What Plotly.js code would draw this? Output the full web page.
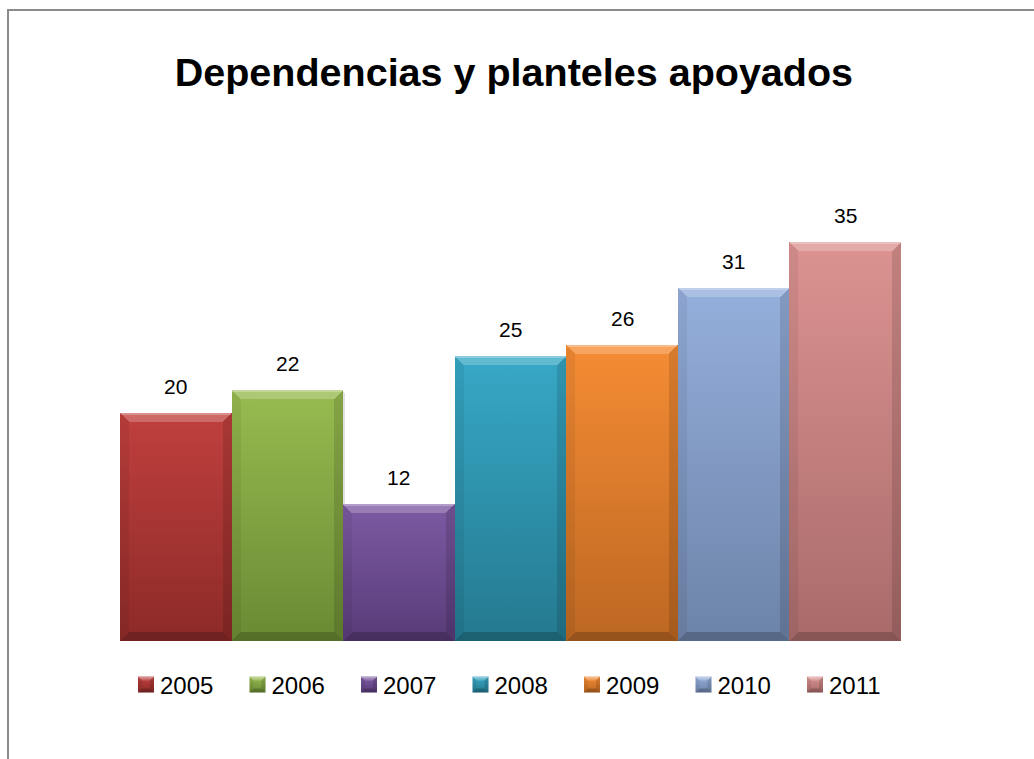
<!DOCTYPE html>
<html>
<head>
<meta charset="utf-8">
<script src="https://cdn.plot.ly/plotly-3.0.1.min.js"></script>
<style>
html,body{margin:0;padding:0;background:#fff;overflow:hidden;}
#frame{position:absolute;left:7px;top:9px;width:1100px;height:800px;border-left:2px solid #8c8c8c;border-top:2px solid #8c8c8c;}
#chart{position:absolute;left:0;top:0;width:1034px;height:759px;}
</style>
</head>
<body>
<div id="frame"></div>
<div id="chart"></div>
<script>
const years = ['2005','2006','2007','2008','2009','2010','2011'];
const values = [20, 22, 12, 25, 26, 31, 35];
const topColors = ['#c0403d','#98bb50','#7d5aa3','#37a8c6','#f58c34','#95afdc','#dc9391'];
const bottomColors = ['#8c2a28','#6a8a33','#583b78','#24798f','#bc6722','#6d83a8','#a86b6a'];
const mainColors = ['#b03b38','#86a844','#6e4e92','#2e97b3','#e67e2e','#8aa5d4','#d48a8a'];
const chartTitle = 'Dependencias y planteles apoyados';

const FONT = 'Liberation Sans, Arial, sans-serif';

const traces = years.map((y, i) => ({
  type: 'bar',
  name: y,
  x: [y],
  y: [values[i]],
  marker: {color: mainColors[i], line: {width: 0}},
  hoverinfo: 'none'
}));

const annotations = years.map((y, i) => ({
  x: i, y: values[i], xref: 'x', yref: 'y',
  text: String(values[i]), showarrow: false,
  yanchor: 'bottom', yshift: 13,
  font: {family: FONT, size: 21, color: '#000'}
}));

const layout = {
  width: 1034, height: 759,
  paper_bgcolor: 'rgba(0,0,0,0)', plot_bgcolor: 'rgba(0,0,0,0)',
  margin: {l: 120, r: 133, t: 185, b: 118},
  title: {text: '<b>' + chartTitle + '</b>', font: {family: FONT, size: 39.5, color: '#000'},
          x: 0.497, xanchor: 'center', y: 0.905, yanchor: 'middle'},
  barmode: 'overlay', bargap: 0,
  xaxis: {type: 'category', categoryorder: 'array', categoryarray: years, range: [-0.5, 6.5],
          showticklabels: false, showgrid: false, zeroline: false, showline: false, ticks: ''},
  yaxis: {range: [0, 40], showticklabels: false, showgrid: false, zeroline: false, showline: false, ticks: ''},
  showlegend: true,
  legend: {orientation: 'h', x: 0.0, xanchor: 'left', y: -0.096, yanchor: 'middle',
           entrywidth: 66.5, entrywidthmode: 'pixels', traceorder: 'normal',
           font: {family: FONT, size: 24, color: '#000'}},
  annotations: annotations
};

const ns = 'http://www.w3.org/2000/svg';
function poly(parent, tf, pts, fill, op) {
  const p = document.createElementNS(ns, 'polygon');
  p.setAttribute('points', pts.map(q => q.join(',')).join(' '));
  p.setAttribute('fill', fill);
  p.setAttribute('fill-opacity', op);
  if (tf) p.setAttribute('transform', tf);
  parent.appendChild(p);
  return p;
}
function bevel(path, bb, b, shadow) {
  const x0 = bb.x, x1 = bb.x + bb.width, y0 = bb.y, y1 = bb.y + bb.height;
  const parent = path.parentNode;
  const tf = path.getAttribute('transform');
  if (shadow) {
    const s = poly(parent, tf, [[x0 + 1, y1], [x1 + 2, y1], [x1 + 2, y1 + 3], [x0 + 1, y1 + 3]], '#000', 0.18);
    parent.insertBefore(s, path);
    poly(parent, tf, [[x1, y0 + 2], [x1 + 2, y0 + 3], [x1 + 2, y1], [x1, y1]], '#000', 0.12);
  }
  poly(parent, tf, [[x0, y0], [x1, y0], [x1 - b, y0 + b], [x0 + b, y0 + b]], '#fff', 0.22);
  poly(parent, tf, [[x0, y0], [x1, y0], [x1 - 1, y0 + 2], [x0 + 1, y0 + 2]], '#fff', 0.25);
  poly(parent, tf, [[x0, y0], [x0 + b, y0 + b], [x0 + b, y1 - b], [x0, y1]], '#000', 0.06);
  poly(parent, tf, [[x1, y0], [x1 - b, y0 + b], [x1 - b, y1 - b], [x1, y1]], '#000', 0.12);
  poly(parent, tf, [[x0, y1], [x0 + b, y1 - b], [x1 - b, y1 - b], [x1, y1]], '#000', 0.2);
}

Plotly.newPlot('chart', traces, layout, {displayModeBar: false, staticPlot: true}).then(gd => {
  const svg = gd.querySelector('svg.main-svg');
  let defs = svg.querySelector('defs');
  years.forEach((y, i) => {
    const g = document.createElementNS(ns, 'linearGradient');
    g.setAttribute('id', 'bargrad' + i);
    g.setAttribute('x1', '0'); g.setAttribute('y1', '0');
    g.setAttribute('x2', '0'); g.setAttribute('y2', '1');
    [[0, topColors[i]], [1, bottomColors[i]]].forEach(([o, c]) => {
      const s = document.createElementNS(ns, 'stop');
      s.setAttribute('offset', o); s.setAttribute('stop-color', c);
      g.appendChild(s);
    });
    defs.appendChild(g);
  });
  const barTraces = gd.querySelectorAll('.barlayer .trace');
  barTraces.forEach((t, i) => {
    t.querySelectorAll('path').forEach(p => {
      p.style.fill = 'url(#bargrad' + i + ')';
      bevel(p, p.getBBox(), 9, true);
    });
  });
  const legTraces = gd.querySelectorAll('.legend .traces');
  legTraces.forEach((t, i) => {
    const paths = t.querySelectorAll('.legendpoints path');
    paths.forEach((p, k) => {
      if (k > 0) { p.style.display = 'none'; return; }
      p.style.fill = 'url(#bargrad' + i + ')';
      p.setAttribute('d', 'M14,8H-2V-8H14Z');
      bevel(p, {x: -2, y: -8, width: 16, height: 16}, 4, false);
    });
  });
});
</script>
</body>
</html>
